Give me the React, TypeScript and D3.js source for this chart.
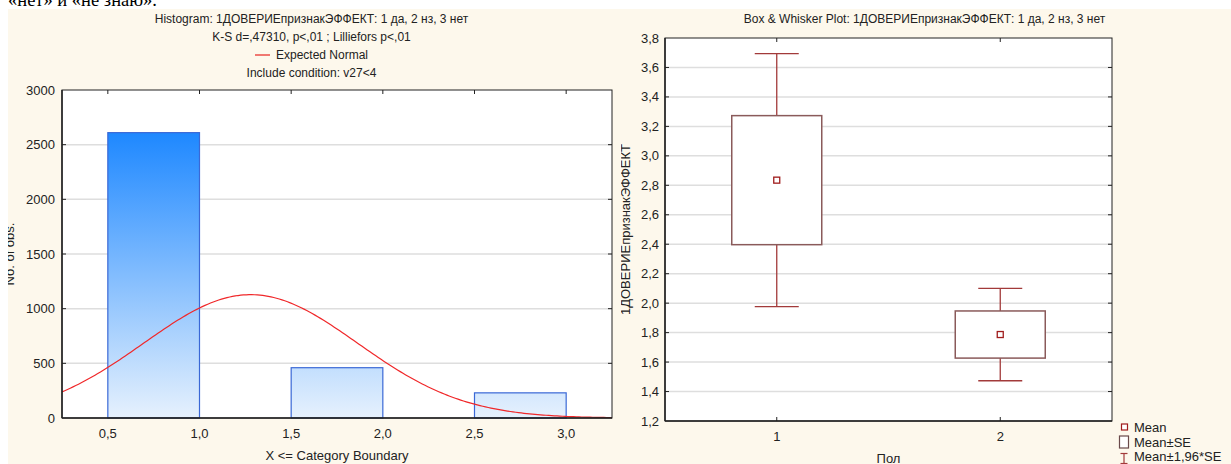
import React from 'react';
import * as d3 from 'd3';

// Histogram: categories 1..3 drawn as bins (lower, upper]
const histBinLower = [0.5, 1.5, 2.5];
const histBinUpper = [1.0, 2.0, 3.0];
const histCategoryValues = [1, 2, 3];
const histCounts = [2610, 460, 230];
const histXTicks = [0.5, 1.0, 1.5, 2.0, 2.5, 3.0];
const histYTicks = [0, 500, 1000, 1500, 2000, 2500, 3000];
const histTitleLines = [
  'Histogram: 1ДОВЕРИЕпризнакЭФФЕКТ: 1 да, 2 нз, 3 нет',
  'K-S d=,47310, p<,01 ; Lilliefors p<,01',
  'Expected Normal',
  'Include condition: v27<4',
];

// Box & whisker: mean, mean±SE, mean±1.96*SE per group
const groupLabels = ['1', '2'];
const groupMeans = [2.835, 1.787];
const groupSE = [0.438, 0.16];
const boxYTicks = [1.2, 1.4, 1.6, 1.8, 2.0, 2.2, 2.4, 2.6, 2.8, 3.0, 3.2, 3.4, 3.6, 3.8];
const boxTitle = 'Box & Whisker Plot: 1ДОВЕРИЕпризнакЭФФЕКТ: 1 да, 2 нз, 3 нет';
const legendLabels = ['Mean', 'Mean±SE', 'Mean±1,96*SE'];

const W = 1231;
const H = 464;
const FONT = '"Liberation Sans", Arial, sans-serif';
const TXT = '#222';
const BG = '#fdf8ec';
const GRID = '#dedede';

const ruLocale = d3.formatLocale({ decimal: ',', thousands: ' ', grouping: [3], currency: ['', ''] });
const fmt1 = ruLocale.format('.1f');

export default function App() {
  // ---------- histogram geometry ----------
  const hx = d3.scaleLinear().domain([0.25, 3.25]).range([62, 612]);
  const hy = d3.scaleLinear().domain([0, 3000]).range([418, 90]);
  const [hx0, hx1] = hx.range();
  const [hyB, hyT] = hy.range();

  const N = d3.sum(histCounts);
  const mean = d3.sum(histCounts.map((c, i) => c * histCategoryValues[i])) / N;
  const sd = Math.sqrt(
    d3.sum(histCounts.map((c, i) => c * (histCategoryValues[i] - mean) ** 2)) / (N - 1)
  );
  const binWidth = histBinUpper[0] - histBinLower[0];
  const expected = (x: number) =>
    (N * binWidth * Math.exp(-0.5 * ((x - mean) / sd) ** 2)) / (sd * Math.sqrt(2 * Math.PI));
  const [d0, d1] = hx.domain();
  const curvePts = d3.range(0, 201).map((i) => d0 + ((d1 - d0) * i) / 200);
  const curvePath = d3
    .line<number>()
    .x((v) => hx(v))
    .y((v) => hy(expected(v)))
    .curve(d3.curveLinear)(curvePts) as string;

  const maxCount = d3.max(histCounts) as number;

  // ---------- box plot geometry ----------
  const bx = d3.scaleLinear().domain([0.5, 2.5]).range([665, 1112]);
  const by = d3.scaleLinear().domain([1.2, 3.8]).range([421, 38]);
  const [bx0, bx1] = bx.range();
  const [byB, byT] = by.range();
  const boxHalf = 45;
  const capHalf = 22;

  const leftMid = (8 + 615) / 2;
  const rightMid = (618 + W) / 2;

  return (
    <svg
      width={W}
      height={H}
      viewBox={`0 0 ${W} ${H}`}
      style={{ position: 'absolute', left: 0, top: 0, display: 'block' }}
      fontFamily={FONT}
    >
      <defs>
        <linearGradient
          id="barGrad"
          gradientUnits="userSpaceOnUse"
          x1={0}
          x2={0}
          y1={hy(maxCount)}
          y2={hy(0)}
        >
          <stop offset="0%" stopColor="#1e88ff" />
          <stop offset="100%" stopColor="#e6f1fd" />
        </linearGradient>
        <clipPath id="histPlot">
          <rect x={hx0} y={hyT} width={hx1 - hx0} height={hyB - hyT} />
        </clipPath>
        <clipPath id="leftPanel">
          <rect x={8} y={9} width={607} height={H - 9} />
        </clipPath>
        <clipPath id="rightPanel">
          <rect x={621} y={9} width={W - 621} height={H - 9} />
        </clipPath>
      </defs>

      <rect x={0} y={0} width={W} height={H} fill="#fff" />
      {/* document line above the figures */}
      <text x={8} y={6} fontFamily='"Liberation Serif", "Times New Roman", serif' fontSize={18.5} fill="#000">
        «нет» и «не знаю».
      </text>
      <rect x={8} y={9} width={W - 8} height={H - 9} fill={BG} />

      {/* ================= Histogram ================= */}
      <g clipPath="url(#leftPanel)">
        {histTitleLines.map((t, i) => {
          const y = 23 + i * 18;
          if (i === 2) {
            const tw = 92;
            const lineW = 15;
            const gap = 6;
            const start = leftMid - (lineW + gap + tw) / 2;
            return (
              <g key={i}>
                <line x1={start} x2={start + lineW} y1={y - 4} y2={y - 4} stroke="#e8231f" strokeWidth={1.2} />
                <text x={start + lineW + gap} y={y} fontSize={12} fill={TXT}>
                  {t}
                </text>
              </g>
            );
          }
          return (
            <text key={i} x={leftMid} y={y} fontSize={12} fill={TXT} textAnchor="middle">
              {t}
            </text>
          );
        })}

        <rect x={hx0} y={hyT} width={hx1 - hx0} height={hyB - hyT} fill="#fff" />
        {histYTicks.slice(1, -1).map((t) => (
          <line key={t} x1={hx0} x2={hx1} y1={hy(t)} y2={hy(t)} stroke={GRID} strokeWidth={1.5} />
        ))}

        {histCounts.map((c, i) => (
          <rect
            key={i}
            x={hx(histBinLower[i])}
            y={hy(c)}
            width={hx(histBinUpper[i]) - hx(histBinLower[i])}
            height={hy(0) - hy(c)}
            fill="url(#barGrad)"
            stroke="#3a68d6"
            strokeWidth={1.2}
          />
        ))}

        <path d={curvePath} fill="none" stroke="#f0282a" strokeWidth={1.2} clipPath="url(#histPlot)" />

        {/* frame and ticks */}
        <rect x={hx0} y={hyT} width={hx1 - hx0} height={hyB - hyT} fill="none" stroke="#222" strokeWidth={1} />
        <line x1={hx0} x2={hx0} y1={hyT} y2={hyB} stroke="#222" strokeWidth={1.5} />
        <line x1={hx0} x2={hx1} y1={hyB} y2={hyB} stroke="#222" strokeWidth={1.5} />
        {histXTicks.map((t) => (
          <line key={'tt' + t} x1={hx(t)} x2={hx(t)} y1={hyT} y2={hyT + 4} stroke="#222" />
        ))}
        {histYTicks.slice(1, -1).map((t) => (
          <g key={'yt' + t}>
            <line x1={hx0} x2={hx0 + 4} y1={hy(t)} y2={hy(t)} stroke="#222" />
            <line x1={hx1 - 4} x2={hx1} y1={hy(t)} y2={hy(t)} stroke="#222" />
          </g>
        ))}

        {histYTicks.map((t) => (
          <text key={'yl' + t} x={hx0 - 7} y={hy(t) + 4.5} fontSize={13} fill={TXT} textAnchor="end">
            {t}
          </text>
        ))}
        {histXTicks.map((t) => (
          <text key={'xl' + t} x={hx(t)} y={hyB + 20} fontSize={13} fill={TXT} textAnchor="middle">
            {fmt1(t)}
          </text>
        ))}
        <text x={(hx0 + hx1) / 2} y={hyB + 42} fontSize={13} fill={TXT} textAnchor="middle">
          {'X <= Category Boundary'}
        </text>
        <text
          transform={`translate(14, ${(hyT + hyB) / 2}) rotate(-90)`}
          fontSize={13}
          fill={TXT}
          textAnchor="middle"
        >
          No. of obs.
        </text>
      </g>

      {/* ================= Box & Whisker ================= */}
      <g clipPath="url(#rightPanel)">
        <text x={rightMid} y={23} fontSize={12} fill={TXT} textAnchor="middle">
          {boxTitle}
        </text>

        <rect x={bx0} y={byT} width={bx1 - bx0} height={byB - byT} fill="#fff" />
        {boxYTicks.slice(1, -1).map((t) => (
          <line key={t} x1={bx0} x2={bx1} y1={by(t)} y2={by(t)} stroke={GRID} strokeWidth={1.5} />
        ))}

        {groupMeans.map((m, i) => {
          const cx = bx(i + 1);
          const se = groupSE[i];
          const wLo = m - 1.96 * se;
          const wHi = m + 1.96 * se;
          return (
            <g key={i}>
              <line x1={cx} x2={cx} y1={by(wHi)} y2={by(m + se)} stroke="#a23a3a" strokeWidth={1.3} />
              <line x1={cx} x2={cx} y1={by(m - se)} y2={by(wLo)} stroke="#a23a3a" strokeWidth={1.3} />
              <line x1={cx - capHalf} x2={cx + capHalf} y1={by(wHi)} y2={by(wHi)} stroke="#a23a3a" strokeWidth={1.3} />
              <line x1={cx - capHalf} x2={cx + capHalf} y1={by(wLo)} y2={by(wLo)} stroke="#a23a3a" strokeWidth={1.3} />
              <rect
                x={cx - boxHalf}
                y={by(m + se)}
                width={boxHalf * 2}
                height={by(m - se) - by(m + se)}
                fill="#fff"
                stroke="#8a5a5a"
                strokeWidth={1.5}
              />
              <rect x={cx - 3} y={by(m) - 3} width={6} height={6} fill="#fff" stroke="#a01c1c" strokeWidth={1.3} />
            </g>
          );
        })}

        <rect x={bx0} y={byT} width={bx1 - bx0} height={byB - byT} fill="none" stroke="#222" strokeWidth={1} />
        <line x1={bx0} x2={bx0} y1={byT} y2={byB} stroke="#222" strokeWidth={1.5} />
        <line x1={bx0} x2={bx1} y1={byB} y2={byB} stroke="#222" strokeWidth={1.5} />
        {groupLabels.map((g, i) => (
          <g key={'gx' + g}>
            <line x1={bx(i + 1)} x2={bx(i + 1)} y1={byT} y2={byT + 4} stroke="#222" />
            <line x1={bx(i + 1)} x2={bx(i + 1)} y1={byB - 4} y2={byB} stroke="#222" />
            <text x={bx(i + 1)} y={byB + 20} fontSize={13} fill={TXT} textAnchor="middle">
              {g}
            </text>
          </g>
        ))}
        {boxYTicks.slice(1, -1).map((t) => (
          <g key={'byt' + t}>
            <line x1={bx0} x2={bx0 + 4} y1={by(t)} y2={by(t)} stroke="#222" />
            <line x1={bx1 - 4} x2={bx1} y1={by(t)} y2={by(t)} stroke="#222" />
          </g>
        ))}
        {boxYTicks.map((t) => (
          <text key={'byl' + t} x={bx0 - 6} y={by(t) + 4.5} fontSize={13} fill={TXT} textAnchor="end">
            {fmt1(t)}
          </text>
        ))}
        <text x={(bx0 + bx1) / 2} y={byB + 42} fontSize={13} fill={TXT} textAnchor="middle">
          Пол
        </text>
        <text
          transform={`translate(630, ${(byT + byB) / 2}) rotate(-90)`}
          fontSize={13}
          fill={TXT}
          textAnchor="middle"
        >
          1ДОВЕРИЕпризнакЭФФЕКТ
        </text>

        {/* legend */}
        <g>
          <rect x={1121.5} y={424} width={6} height={6} fill="#fff" stroke="#a01c1c" strokeWidth={1.2} />
          <text x={1134} y={431.5} fontSize={13} fill={TXT}>
            {legendLabels[0]}
          </text>
          <rect x={1119.5} y={436} width={9} height={12} fill="#fff" stroke="#6a4a4a" strokeWidth={1.2} />
          <text x={1134} y={446.5} fontSize={13} fill={TXT}>
            {legendLabels[1]}
          </text>
          <line x1={1124} x2={1124} y1={453} y2={464} stroke="#a23a3a" strokeWidth={1.2} />
          <line x1={1120.5} x2={1127.5} y1={453.5} y2={453.5} stroke="#a23a3a" strokeWidth={1.2} />
          <line x1={1120.5} x2={1127.5} y1={463.5} y2={463.5} stroke="#a23a3a" strokeWidth={1.2} />
          <text x={1134} y={461} fontSize={13} fill={TXT}>
            {legendLabels[2]}
          </text>
        </g>
      </g>
    </svg>
  );
}
